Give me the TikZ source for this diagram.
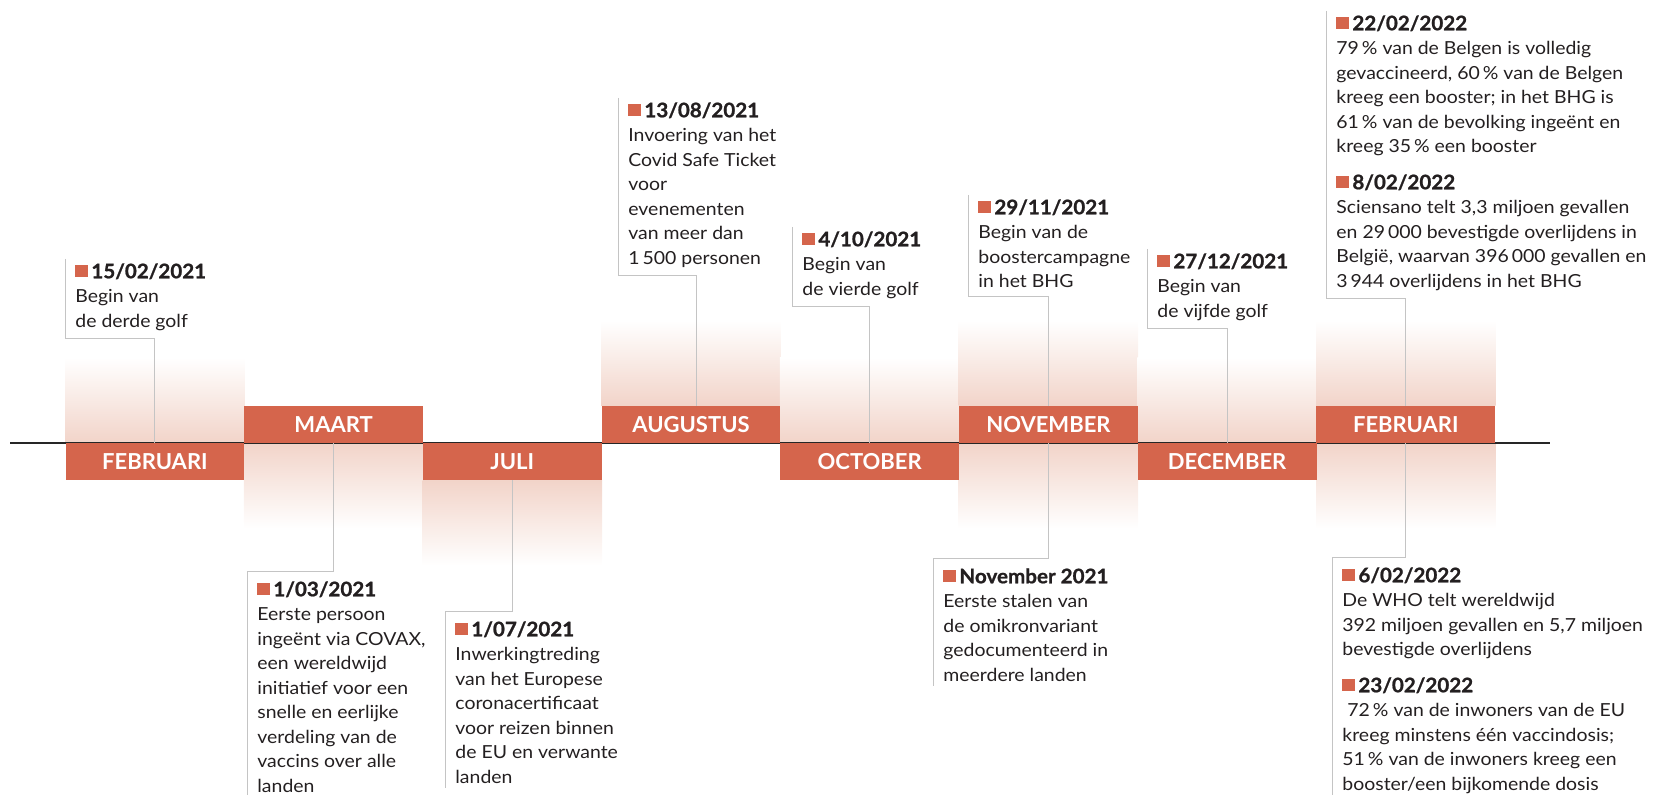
\documentclass[tikz,border=0pt]{standalone}
\usepackage{fontspec}
\setmainfont{Lato}
\newfontfamily\bodyfont{Lato}[FakeStretch=1.08]
\newfontfamily\datefont{Lato}[FakeStretch=1.03,BoldFeatures={FakeBold=1}]
\usepackage{tikz}
\usetikzlibrary{calc,backgrounds}

\definecolor{barred}{RGB}{213,101,76}
\definecolor{glowred}{RGB}{242,212,201}
\definecolor{ink}{RGB}{35,31,32}
\definecolor{connline}{RGB}{196,196,196}

\newcommand{\evdate}[1]{{\datefont\fontsize{10}{12}\selectfont\bfseries\textcolor{barred}{\raisebox{0.6pt}{\rule{6.5pt}{6pt}}}\hspace{1.5pt}#1}}

\begin{document}
\begin{tikzpicture}[x=0.5pt,y=-0.5pt]
                      \tikzstyle{month}=[rectangle,fill=barred,text=white,font=\fontsize{11}{13}\selectfont\bfseries,minimum width=89.4pt,minimum height=18.5pt,inner sep=0pt]
                      \tikzstyle{event}=[anchor=north west,align=left,inner xsep=5pt,inner ysep=2pt,text=ink,font=\bodyfont\fontsize{9}{12.25}\selectfont]
                      \tikzstyle{conn}=[draw=connline,line width=0.5pt]
                      \tikzstyle{glowup}=[top color=white,bottom color=glowred]
                      \tikzstyle{glowdown}=[top color=glowred,bottom color=white]
                      \useasboundingbox (0,0) rectangle (1657,795);
                      \draw[line width=0.6pt,black!85] (10,443) -- (1550,443);
                      % months
                      \node[month] (feb) at (154.9,461.5) {FEBRUARI};
                      \node[month] (mar) at (333.6,424.5) {MAART};
                      \node[month] (jul) at (512.3,461.5) {JULI};
                      \node[month] (aug) at (691.0,424.5) {AUGUSTUS};
                      \node[month] (oct) at (869.7,461.5) {OCTOBER};
                      \node[month] (nov) at (1048.4,424.5) {NOVEMBER};
                      \node[month] (dec) at (1227.1,461.5) {DECEMBER};
                      \node[month] (febb) at (1405.8,424.5) {FEBRUARI};
                      \begin{scope}[on background layer]
                        \shade[glowup] (feb.north west) rectangle ([yshift=42.5pt]feb.north east);
                        \shade[glowdown] (mar.south west) rectangle ([yshift=-42.5pt]mar.south east);
                        \shade[glowdown] (jul.south west) rectangle ([yshift=-42.5pt]jul.south east);
                        \shade[glowup] (aug.north west) rectangle ([yshift=42.5pt]aug.north east);
                        \shade[glowup] (oct.north west) rectangle ([yshift=42.5pt]oct.north east);
                        \shade[glowup] (nov.north west) rectangle ([yshift=42.5pt]nov.north east);
                        \shade[glowdown] (nov.south west) rectangle ([yshift=-42.5pt]nov.south east);
                        \shade[glowup] (dec.north west) rectangle ([yshift=42.5pt]dec.north east);
                        \shade[glowup] (febb.north west) rectangle ([yshift=42.5pt]febb.north east);
                        \shade[glowdown] (febb.south west) rectangle ([yshift=-42.5pt]febb.south east);
                      \end{scope}
                      % events above the line
                      \node[event] (e1) at (65,259) {\evdate{15/02/2021}\\Begin van\\de derde golf};
                      \node[event] (e4) at (618,98) {\evdate{13/08/2021}\\Invoering van het\\Covid Safe Ticket\\voor\\evenementen\\van meer dan\\1\,500 personen};
                      \node[event] (e5) at (792,227) {\evdate{4/10/2021}\\Begin van\\de vierde golf};
                      \node[event] (e6) at (968,195) {\evdate{29/11/2021}\\Begin van de\\boostercampagne\\in het BHG};
                      \node[event] (e7) at (1147,249) {\evdate{27/12/2021}\\Begin van\\de vijfde golf};
                      \node[event] (e8) at (1326,11) {\evdate{22/02/2022}\\79\,\% van de Belgen is volledig\\gevaccineerd, 60\,\% van de Belgen\\kreeg een booster; in het BHG is\\61\,\% van de bevolking ingeënt en\\kreeg 35\,\% een booster\\[6pt]\evdate{8/02/2022}\\Sciensano telt 3,3 miljoen gevallen\\en 29\,000 bevestigde overlijdens in\\België, waarvan 396\,000 gevallen en\\3\,944 overlijdens in het BHG};
                      % events below the line
                      \node[event] (e2) at (247,577) {\evdate{1/03/2021}\\Eerste persoon\\ingeënt via COVAX,\\een wereldwijd\\initiatief voor een\\snelle en eerlijke\\verdeling van de\\vaccins over alle\\landen};
                      \node[event] (e3) at (445,617) {\evdate{1/07/2021}\\Inwerkingtreding\\van het Europese\\coronacertificaat\\voor reizen binnen\\de EU en verwante\\landen};
                      \node[event] (e9) at (933,564) {\evdate{November 2021}\\Eerste stalen van\\de omikronvariant\\gedocumenteerd in\\meerdere landen};
                      \node[event] (e10) at (1332,563) {\evdate{6/02/2022}\\De WHO telt wereldwijd\\392 miljoen gevallen en 5,7 miljoen\\bevestigde overlijdens\\[6pt]\evdate{23/02/2022}\\\hspace*{2.5pt}72\,\% van de inwoners van de EU\\kreeg minstens één vaccindosis;\\51\,\% van de inwoners kreeg een\\booster/een bijkomende dosis};
                      % connectors
                      \draw[conn] (e1.north west) -- ([yshift=-2pt]e1.south west) -| (feb.north);
                      \draw[conn] (e4.north west) -- ([yshift=-2pt]e4.south west) -| ([xshift=2.5pt]aug.north);
                      \draw[conn] (e5.north west) -- ([yshift=-2pt]e5.south west) -| (oct.north);
                      \draw[conn] (e6.north west) -- ([yshift=-2pt]e6.south west) -| (nov.north);
                      \draw[conn] (e7.north west) -- ([yshift=-2pt]e7.south west) -| (dec.north);
                      \draw[conn] (e8.north west) -- ([yshift=-2pt]e8.south west) -| (febb.north);
                      \draw[conn] (mar.south) |- ([yshift=3pt]e2.north west) -- (e2.south west);
                      \draw[conn] (jul.south) |- ([yshift=3pt]e3.north west) -- (e3.south west);
                      \draw[conn] (nov.south) |- ([yshift=3pt]e9.north west) -- (e9.south west);
                      \draw[conn] (febb.south) |- ([yshift=3pt]e10.north west) -- (e10.south west);
                  \end{tikzpicture}
\end{document}
